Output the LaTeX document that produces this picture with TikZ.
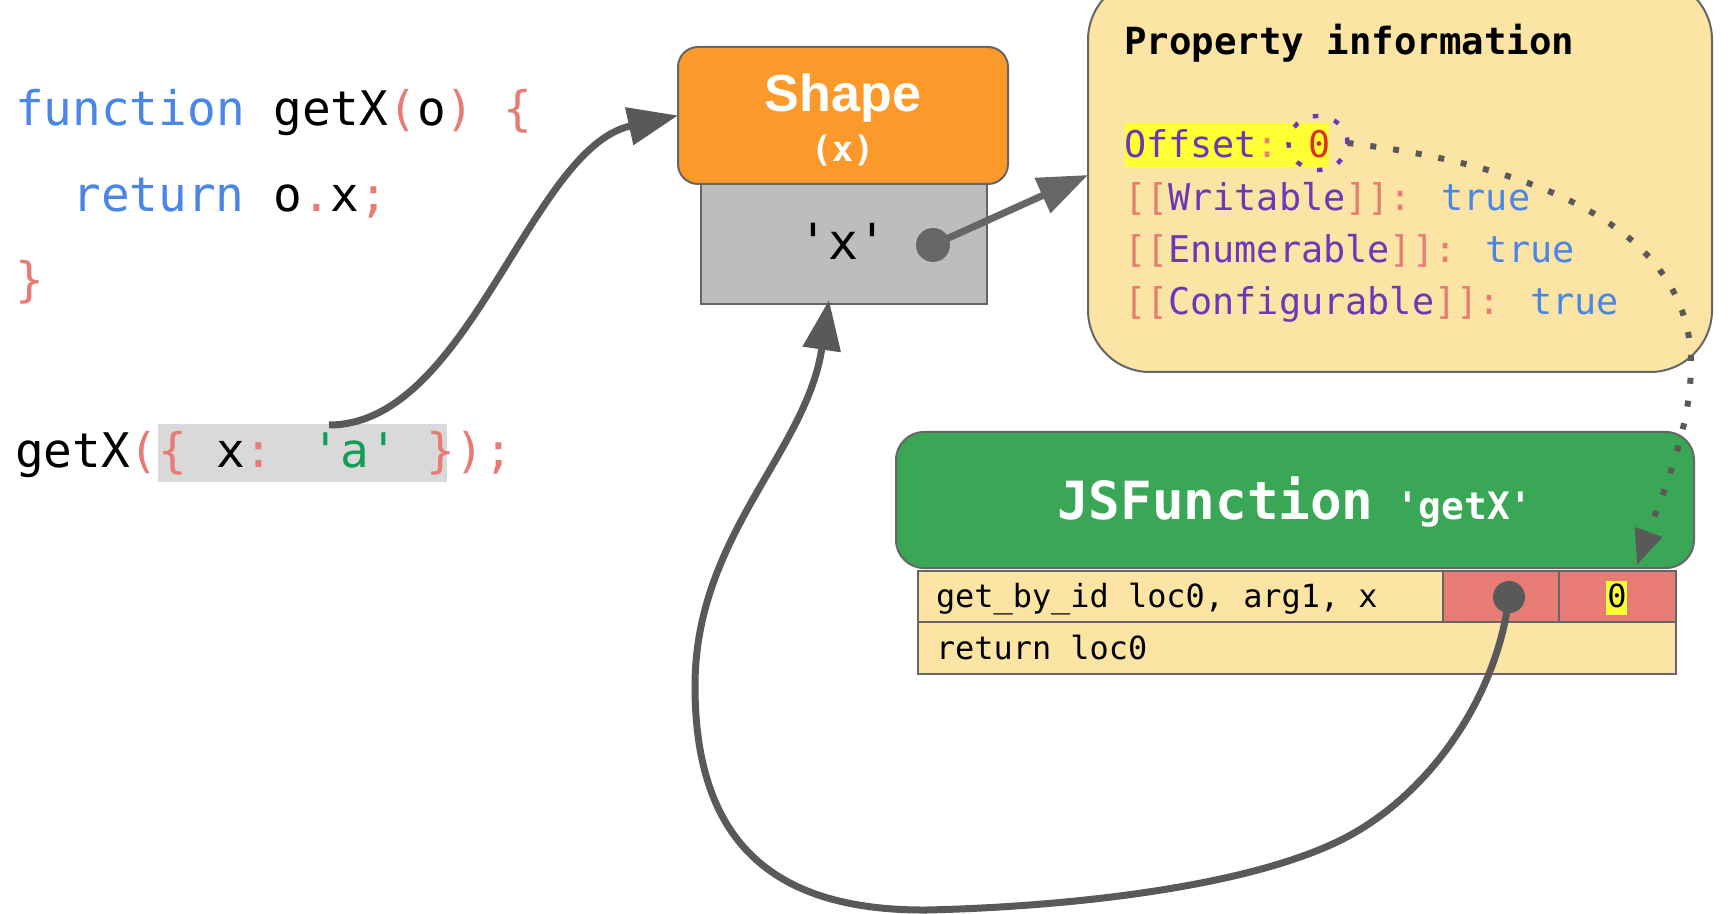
\documentclass[tikz,border=0pt]{standalone}
\usepackage{fontspec}
\usetikzlibrary{arrows.meta,shapes.geometric}
\newfontfamily\mono{DejaVu Sans Mono}
\newfontfamily\sansB{Liberation Sans}
\newcommand\sq{\textquotesingle}
\definecolor{kw}{HTML}{4A86E8}
\definecolor{pn}{HTML}{E67C73}
\definecolor{strc}{HTML}{0F9D58}
\definecolor{prp}{HTML}{673AB7}
\definecolor{numc}{HTML}{D93025}
\definecolor{hly}{HTML}{FFFF33}
\definecolor{hlg}{HTML}{D9D9D9}
\definecolor{orng}{HTML}{FB992B}
\definecolor{gbox}{HTML}{BDBDBD}
\definecolor{tanc}{HTML}{FCE4A5}
\definecolor{grn}{HTML}{3AA757}
\definecolor{redc}{HTML}{E67C73}
\definecolor{bord}{HTML}{666666}
\definecolor{arr}{HTML}{595959}
\definecolor{arrl}{HTML}{666666}
\tikzset{
  box/.style={draw=bord, line width=1pt, inner sep=0pt, outer sep=0pt},
  txt/.style={inner sep=0pt, outer sep=0pt, anchor=base west},
  code/.style={txt, font=\mono\fontsize{23.85pt}{28pt}\selectfont},
  ptxt/.style={txt, font=\mono\fontsize{18.4pt}{22pt}\selectfont},
  bc/.style={txt, font=\mono\fontsize{15.95pt}{19pt}\selectfont},
  conn/.style={draw=arr, line width=3.5pt, -{Triangle[length=25pt,width=18.5pt]}},
  dotconn/.style={draw=arr, line width=3pt, dash pattern=on 3pt off 8.5pt, -{Triangle[length=17.5pt,width=14pt]}},
}
\begin{document}
\begin{tikzpicture}[x=0.5pt,y=-0.5pt]
\useasboundingbox (0,0) rectangle (1730,914);
\clip (0,0) rectangle (1730,914);
% code
\fill[hlg] (158,424) rectangle (447,482);
\node[code] (l1) at (15,126) {\textcolor{kw}{function} getX\textcolor{pn}{(}o\textcolor{pn}{)} \textcolor{pn}{\{}};
\node[code] (l2) at (72.4,212) {\textcolor{kw}{return} o\textcolor{pn}{.}x\textcolor{pn}{;}};
\node[code] (l3) at (15,297) {\textcolor{pn}{\}}};
\node[code] (l4) at (15,468) {getX\textcolor{pn}{(\{} x\textcolor{pn}{:} \textcolor{strc}{\sq a\sq} \textcolor{pn}{\});}};
% shape
\node[box, fill=gbox, minimum width=143pt, minimum height=60pt] (shapebody) at (844,244) {};
\node[box, fill=orng, rounded corners=10pt, minimum width=165pt, minimum height=68.5pt] (shapehead) at (843,115.5) {};
\node[txt, anchor=base, text=white, font=\sansB\bfseries\fontsize{26pt}{30pt}\selectfont] (shapelbl) at (843,112) {Shape};
\node[txt, anchor=base, text=white, font=\mono\bfseries\fontsize{17.5pt}{21pt}\selectfont] (shapex) at (843,162) {(x)};
\node[txt, anchor=base, font=\mono\fontsize{24.9pt}{28pt}\selectfont] (xkey) at (843,260) {\sq x\sq};
% property information
\node[box, fill=tanc, rounded corners=31pt, minimum width=312pt, minimum height=197pt] (propbox) at (1400,175) {};
\fill[hly] (1125,123) rectangle (1329,167);
\node[ptxt, font=\mono\bfseries\fontsize{18.7pt}{22pt}\selectfont] (p0) at (1124,55) {Property information};
\node[ptxt] (p1) at (1124,158) {\textcolor{prp}{Offset}\textcolor{pn}{:} \textcolor{numc}{0}};
\node[ptxt] (p2) at (1124,211) {\textcolor{pn}{[[}\textcolor{prp}{Writable}\textcolor{pn}{]]:} \textcolor{kw}{true}};
\node[ptxt] (p3) at (1124,263) {\textcolor{pn}{[[}\textcolor{prp}{Enumerable}\textcolor{pn}{]]:} \textcolor{kw}{true}};
\node[ptxt] (p4) at (1124,315) {\textcolor{pn}{[[}\textcolor{prp}{Configurable}\textcolor{pn}{]]:} \textcolor{kw}{true}};
\node[ellipse, draw=prp, line width=2.2pt, dash pattern=on 2.75pt off 8.25pt, minimum width=29.5pt, minimum height=27pt, inner sep=0pt, outer sep=0pt] (ring) at (1318,143) {};
% bytecode table
\node[box, fill=tanc, minimum width=262.5pt, minimum height=25.5pt] (c1) at (1180.5,596.5) {};
\node[box, fill=redc, minimum width=58pt, minimum height=25.5pt] (c2) at (1501,596.5) {};
\node[box, fill=redc, minimum width=58.5pt, minimum height=25.5pt] (c3) at (1617.5,596.5) {};
\node[box, fill=tanc, minimum width=379pt, minimum height=26pt] (r2) at (1297,648) {};
\node[bc] (t1) at (936,607) {get\_by\_id loc0, arg1, x};
\node[bc] (t2) at (936,659) {return loc0};
\fill[hly] (1606,581) rectangle (1627,615);
\node[bc, anchor=base] (t0) at (1617,607) {0};
% JSFunction
\node[box, fill=grn, rounded corners=14pt, minimum width=399pt, minimum height=68pt] (jsf) at (1295,500) {};
\node[txt, text=white, font=\mono\bfseries\fontsize{26.3pt}{30pt}\selectfont] (jsfl) at (1057,520) {JSFunction};
\node[txt, text=white, font=\mono\bfseries\fontsize{18.9pt}{22pt}\selectfont] (jsfn) at (1396,520) {\sq getX\sq};
% dots
\node[circle, fill=arrl, minimum size=17pt, inner sep=0pt] (dot1) at (933,245) {};
\node[circle, fill=arr, minimum size=16pt, inner sep=0pt] (dot2) at (1509,597) {};
% connectors
\coordinate (objstart) at (329,425);
\coordinate (ptip) at (1637,565);
\draw[conn] (objstart) .. controls (469,425) and (530,148) .. (shapehead.west);
\draw[conn, draw=arrl] (dot1.center) -- (propbox.west);
\draw[dotconn] (ring.east) .. controls (1500,161) and (1691,214) .. (1691,364) .. controls (1691,430) and (1661,497) .. (ptip);
\draw[conn] (dot2.center) .. controls (1497,697) and (1429,797) .. (1339,841) .. controls (1240,889) and (1060,907) .. (927,910) .. controls (777,911) and (695,846) .. (695,686) .. controls (695,536) and (806.5,452) .. ([xshift=-7.5pt,yshift=2pt]shapebody.south);
\end{tikzpicture}
\end{document}
